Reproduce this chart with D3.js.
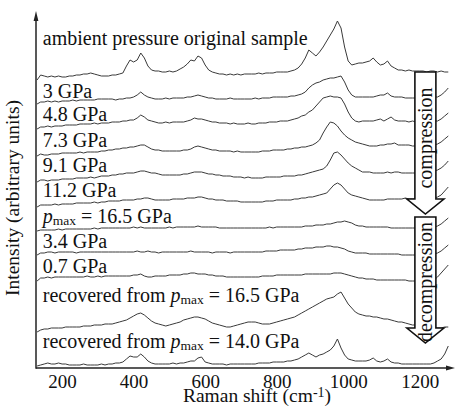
<!DOCTYPE html>
<html>
<head>
<meta charset="utf-8">
<script src="https://cdn.jsdelivr.net/npm/d3@7"></script>
<style>
body { margin: 0; background: #fff; }
svg { display: block; }
svg text { font-family: "Liberation Serif", "DejaVu Serif", serif; fill: #111; }
</style>
</head>
<body>
<div id="chart"></div>
<script>
// Raman shift grid (cm-1)
var shifts = [130,140,150,160,170,180,190,200,210,220,
    230,240,250,260,270,280,290,300,310,320,
    330,340,350,360,370,380,390,400,410,420,
    430,440,450,460,470,480,490,500,510,520,
    530,540,550,560,570,580,590,600,610,620,
    630,640,650,660,670,680,690,700,710,720,
    730,740,750,760,770,780,790,800,810,820,
    830,840,850,860,870,880,890,900,910,920,
    930,940,950,960,970,980,990,1000,1010,1020,
    1030,1040,1050,1060,1070,1080,1090,1100,1110,1120,
    1130,1140,1150,1160,1170,1180,1190,1200,1210,1220,
    1230,1240,1250,1260,1270,1280];

// intensities (arbitrary units), each relative to its own stack offset
var ambient = [0,5,4,3,4,3,4,3,3,4, 4,5,5,6,6,7,6,5,4,4, 4,5,5,6,7,14,20,18,20,27,
    22,14,10,9,9,8,8,9,8,9, 11,13,16,20,19,24,22,15,10,8, 7,6,6,5,6,5,6,5,6,6,
    6,6,7,6,7,7,7,8,8,8, 8,9,10,12,16,22,30,27,24,28, 33,39,45,51,59,52,33,19,15,16,
    17,17,18,19,22,18,15,16,19,14, 12,10,10,9,10,9,9,9,9,8, 9,9,8,9,8,8];
var gpa3 = [0,2,2,3,2,3,2,3,3,3, 4,3,4,4,4,4,4,5,5,5, 5,5,4,5,5,6,6,7,9,12,
    9,7,6,5,5,5,6,5,6,6, 6,6,7,7,8,9,8,7,6,6, 5,5,5,5,6,5,5,5,5,5,
    5,6,5,6,6,6,7,7,7,7, 7,8,8,9,10,12,16,19,21,22, 24,25,26,26,27,28,22,14,9,7,
    7,7,7,7,7,8,9,9,11,8, 7,7,7,6,6,6,6,6,6,6, 6,7,7,9,12,16];
var gpa48 = [1,3,3,4,3,4,4,4,5,5, 5,5,6,6,6,6,7,6,7,7, 7,8,8,8,9,9,10,10,12,15,
    13,10,9,8,7,7,8,7,8,8, 8,8,9,10,12,11,11,10,9,8, 8,7,7,7,6,7,6,6,6,7,
    6,6,7,7,7,8,8,8,9,9, 9,10,11,12,14,15,18,20,24,28, 32,33,34,33,33,32,26,18,12,9,
    8,9,9,9,9,10,11,9,11,13, 10,9,9,9,8,9,8,8,8,8, 8,9,9,11,14,17];
var gpa73 = [0,2,1,1,2,2,2,3,3,3, 3,3,4,3,4,4,4,4,5,5, 6,6,7,7,8,8,9,9,10,11,
    11,9,7,6,6,5,5,5,5,5, 5,6,6,7,9,10,9,8,7,6, 6,5,5,5,5,4,5,4,4,4,
    4,4,4,5,5,5,6,6,6,6, 7,7,8,8,9,9,10,11,13,16, 23,29,34,33,30,25,21,18,16,14,
    13,12,11,10,10,10,11,11,12,12, 13,11,11,11,11,10,10,10,10,10, 10,11,12,14,17,20];
var gpa91 = [0,2,2,1,2,2,2,3,3,3, 3,4,4,4,4,5,4,5,6,6, 6,7,7,8,8,9,9,9,10,11,
    11,10,9,9,8,7,7,7,7,7, 7,8,8,9,10,10,10,9,8,8, 7,7,6,6,6,5,5,5,4,5,
    4,4,4,4,5,5,5,5,5,6, 6,6,6,7,7,8,9,10,11,12, 13,16,22,29,30,27,23,19,16,14,
    12,10,10,10,9,9,9,9,10,9, 10,10,9,9,9,9,9,9,9,10, 10,11,12,14,17,21];
var gpa112 = [0,2,2,2,2,3,2,3,3,3, 3,4,4,4,4,4,5,4,5,5, 6,6,6,6,7,7,7,7,8,8,
    9,9,8,7,7,7,7,7,8,8, 8,8,9,9,9,10,10,9,8,8, 7,7,7,6,6,6,6,5,5,5,
    5,5,5,5,6,6,6,7,7,7, 7,7,8,8,9,9,10,10,11,12, 13,14,18,22,24,22,18,14,12,11,
    10,9,8,7,7,7,7,7,8,8, 8,8,8,9,8,8,8,8,8,8, 8,9,10,12,16,20];
var pmax165 = [0,1,1,1,1,1,2,1,2,2, 2,2,2,2,2,2,3,2,3,3, 3,3,3,3,3,3,3,4,3,4,
    3,3,3,3,3,3,3,4,3,4, 4,4,4,4,4,5,4,4,4,4, 4,3,3,3,3,3,3,3,3,3,
    3,3,3,3,3,4,3,4,4,4, 4,4,4,4,4,5,5,5,6,6, 6,7,7,8,9,9,10,9,8,6,
    5,5,4,4,4,4,4,4,4,3, 3,3,3,3,3,3,3,3,3,3, 3,4,5,7,10,13];
var gpa34 = [1,3,3,4,4,3,4,4,4,4, 4,3,4,4,4,4,4,4,4,4, 4,4,4,4,4,4,4,4,5,4,
    4,5,4,4,3,4,4,4,4,4, 4,4,4,5,4,4,4,4,4,3, 4,4,4,4,3,4,4,4,4,4,
    4,4,4,4,5,5,5,5,6,6, 6,6,6,7,7,8,8,8,9,9, 9,10,10,9,9,8,7,5,4,3,
    3,3,3,2,2,2,2,2,2,2, 2,2,1,1,1,1,1,1,1,1, 1,2,3,5,8,11];
var gpa07 = [2,5,5,6,5,6,6,6,6,6, 6,6,6,6,7,6,6,7,6,7, 7,7,7,7,7,7,7,8,8,9,
    7,6,6,7,7,7,7,8,8,8, 8,9,9,10,10,9,9,9,8,8, 7,7,7,6,6,6,6,6,6,6,
    6,6,6,7,7,7,7,8,8,8, 8,8,8,8,8,9,9,9,9,9, 9,9,9,10,10,10,9,8,7,6,
    5,5,4,4,4,3,3,3,3,3, 3,3,3,3,2,2,2,2,2,2, 2,3,6,10,14,18];
var rec165 = [0,2,3,3,4,4,4,4,5,5, 5,5,5,6,6,6,7,7,7,8, 8,8,9,10,11,12,14,16,18,19,
    17,14,11,9,8,7,6,7,8,9, 10,12,13,14,15,15,14,13,11,9, 8,7,6,5,5,6,7,8,9,10,
    10,10,9,8,8,8,9,10,11,12, 13,14,15,17,19,21,23,25,27,29, 31,33,34,35,38,40,34,28,24,20,
    18,17,16,16,15,15,14,13,13,12, 11,10,10,9,8,7,7,6,6,5, 5,5,4,4,5,5];
var rec140 = [0,1,2,3,2,2,3,2,2,1, 1,1,1,2,1,1,1,1,2,1, 2,2,3,3,4,7,10,9,9,12,
    9,5,3,2,2,2,2,2,3,2, 3,3,4,5,5,8,9,4,3,2, 2,2,2,1,2,2,2,2,2,2,
    2,2,3,3,3,3,4,4,4,4, 5,5,6,7,9,11,13,11,9,11, 12,14,16,20,27,18,11,7,6,5,
    5,5,5,6,8,5,4,5,7,4, 3,3,2,2,2,2,2,2,2,2, 2,3,5,7,12,20];

var spectra = [ambient, gpa3, gpa48, gpa73, gpa91, gpa112, pmax165, gpa34, gpa07, rec165, rec140];
var offsets = [288, 264, 238, 212, 186, 161, 137, 112, 85, 36, 2];
var labels = ['ambient pressure original sample', '3 GPa', '4.8 GPa', '7.3 GPa', '9.1 GPa',
    '11.2 GPa', 'pmax = 16.5 GPa', '3.4 GPa', '0.7 GPa',
    'recovered from pmax = 16.5 GPa', 'recovered from pmax = 14.0 GPa'];
var labelLevels = [323, 270, 247, 221, 196, 171, 145, 120, 95, 66, 20];
var xTicks = [200, 400, 600, 800, 1000, 1200];

// process arrows: top, tip and text centre in intensity units
var arrows = [
    {name: 'compression', top: 296, tip: 154, mid: 230},
    {name: 'decompression', top: 151, tip: 25, mid: 86}
];
var arrowShift = 1216;

var width = 456, height = 408;
var serif = '"Liberation Serif", "DejaVu Serif", serif';

var x = d3.scaleLinear().domain([127, 1296]).range([36, 454]);
var y = d3.scaleLinear().domain([0, 356]).range([368, 12]);

var svg = d3.select('#chart').append('svg')
    .attr('width', width)
    .attr('height', height)
    .style('font-family', serif);

svg.append('rect')
    .attr('width', width)
    .attr('height', height)
    .attr('fill', '#fff');

// spectra
spectra.forEach(function(s, j) {
    var line = d3.line()
        .x(function(d, i) { return x(shifts[i]); })
        .y(function(d) { return y(offsets[j] + d); });
    svg.append('path')
        .datum(s)
        .attr('d', line)
        .attr('fill', 'none')
        .attr('stroke', '#3a3a3a')
        .attr('stroke-width', 1)
        .attr('stroke-linejoin', 'round');
});

// compression / decompression arrows, white filled so they hide the traces
arrows.forEach(function(a) {
    var cx = x(arrowShift), hw = 10.5, HW = 18.5, hl = 15;
    var top = y(a.top), tip = y(a.tip);
    var pts = [[cx - hw, top], [cx + hw, top], [cx + hw, tip - hl], [cx + HW, tip - hl],
        [cx, tip], [cx - HW, tip - hl], [cx - hw, tip - hl]];
    svg.append('polygon')
        .attr('points', pts.map(function(p) { return p.join(','); }).join(' '))
        .attr('fill', '#fff')
        .attr('stroke', '#111')
        .attr('stroke-width', 1.6);
    svg.append('text')
        .attr('transform', 'translate(' + (cx + 6.5) + ',' + y(a.mid) + ') rotate(-90)')
        .attr('text-anchor', 'middle')
        .style('font-family', serif)
        .style('font-size', '20px')
        .text(a.name);
});

// axes
var xAxis = d3.axisBottom(x)
    .tickValues(xTicks)
    .tickFormat(d3.format('d'))
    .tickSize(0)
    .tickPadding(6.5);
var gx = svg.append('g')
    .attr('transform', 'translate(0,' + y(0) + ')')
    .call(xAxis);
gx.select('.domain').remove();
gx.selectAll('text')
    .style('font-size', '19px')
    .style('font-family', serif)
    .attr('fill', '#111');

var x0 = x.range()[0], x1 = x.range()[1], y0 = y.range()[0], y1 = y.range()[1];
svg.append('line')
    .attr('x1', x0).attr('x2', x1 - 6)
    .attr('y1', y0).attr('y2', y0)
    .attr('stroke', '#222').attr('stroke-width', 1.5);
svg.append('polygon')
    .attr('points', [[x1 - 8, y0 - 2.6], [x1 + 1, y0], [x1 - 8, y0 + 2.6]].join(' '))
    .attr('fill', '#222');
svg.append('line')
    .attr('x1', x0).attr('x2', x0)
    .attr('y1', y0 + 0.7).attr('y2', y1 + 6)
    .attr('stroke', '#222').attr('stroke-width', 1.5);
svg.append('polygon')
    .attr('points', [[x0 - 2.4, y1 + 9], [x0, y1 - 1], [x0 + 2.4, y1 + 9]].join(' '))
    .attr('fill', '#222');

// spectrum labels
labels.forEach(function(txt, j) {
    var t = svg.append('text')
        .attr('x', x(146))
        .attr('y', y(labelLevels[j]))
        .style('font-family', serif)
        .style('font-size', '20px');
    var k = txt.indexOf('pmax');
    if (k < 0) {
        t.text(txt);
        return;
    }
    if (k > 0) t.append('tspan').text(txt.slice(0, k));
    t.append('tspan').style('font-style', 'italic').text('p');
    t.append('tspan').attr('dy', 2).style('font-size', '13.5px').text('max');
    t.append('tspan').attr('dy', -2).text(txt.slice(k + 4));
});

// axis titles
svg.append('text')
    .attr('transform', 'translate(19,' + 198 + ') rotate(-90)')
    .attr('text-anchor', 'middle')
    .style('font-family', serif)
    .style('font-size', '19.5px')
    .text('Intensity (arbitrary units)');

var xt = svg.append('text')
    .attr('x', 257)
    .attr('y', 402)
    .attr('text-anchor', 'middle')
    .style('font-family', serif)
    .style('font-size', '19.5px');
xt.append('tspan').text('Raman shift (cm');
xt.append('tspan').attr('dy', -5).style('font-size', '14px').text('-1');
xt.append('tspan').attr('dy', 5).text(')');
</script>
</body>
</html>
